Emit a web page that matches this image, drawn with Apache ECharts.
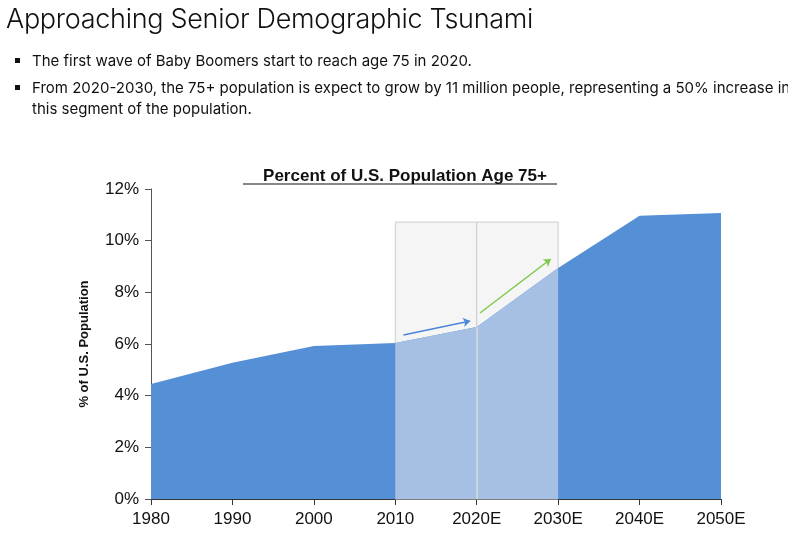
<!DOCTYPE html><html><head><meta charset="utf-8"><script src="https://cdn.jsdelivr.net/npm/echarts@6/dist/echarts.min.js"></script>
<style>body{margin:0;background:#fff;font-family:Inter,"Noto Sans",sans-serif}
#h{position:absolute;left:6px;top:2px;font-size:27px;font-weight:300;letter-spacing:-0.3px;color:#111}
ul{position:absolute;left:14px;top:50px;margin:0;padding:0 0 0 18px;font-size:15px;line-height:21px;color:#111;list-style:square;width:770px}
li{margin-bottom:6px}
#c{position:absolute;left:0;top:0;width:788px;height:540px}</style></head><body>
<div id="c"></div>
<div id="h">Approaching Senior Demographic Tsunami</div>
<ul><li>The first wave of Baby Boomers start to reach age 75 in 2020.</li>
<li>From 2020-2030, the 75+ population is expect to grow by 11 million people, representing a 50% increase in this segment of the population.</li></ul>
<script>
const years=[1980,1990,2000,2010,2020,2030,2040,2050];
const tickLabels=['1980','1990','2000','2010','2020E','2030E','2040E','2050E'];
const pct=[4.45,5.27,5.92,6.04,6.66,8.94,10.96,11.07];
const highlightYears=[2010,2020,2030];
const boxTop=10.72;
const blueArrow=[[2011,6.35],[2019.2,6.89]];
const greenArrow=[[2020.4,7.2],[2029.1,9.29]];
const c=echarts.init(document.getElementById('c'));
const light=years.map((y,i)=>highlightYears.includes(y)?[y,pct[i]]:null).filter(Boolean);
c.setOption({animation:false,
grid:{left:151,right:67,top:189,bottom:41},
xAxis:{type:'value',min:1980,max:2050,interval:10,splitLine:{show:false},
 axisLine:{lineStyle:{color:'#333'}},axisTick:{show:true,length:6,lineStyle:{color:'#333'}},
 axisLabel:{color:'#111',fontSize:17,margin:12,formatter:v=>tickLabels[years.indexOf(v)]||''}},
yAxis:{type:'value',min:0,max:12,interval:2,splitLine:{show:false},
 name:'% of U.S. Population',nameLocation:'middle',nameGap:60,nameTextStyle:{fontWeight:'bold',fontSize:13,color:'#111'},
 axisLine:{show:true,lineStyle:{color:'#555'}},axisTick:{show:true,length:6,lineStyle:{color:'#555'}},
 axisLabel:{color:'#111',fontSize:17,margin:12,formatter:'{value}%'}},
title:{text:'Percent of U.S. Population Age 75+',left:400-0,top:163,textAlign:'center',textStyle:{fontSize:17,fontWeight:'bold',color:'#111'}},
series:[
 {type:'line',z:1,data:[],markArea:{silent:true,itemStyle:{color:'#f5f5f5',borderColor:'#ccc',borderWidth:1},
  data:[[{coord:[2010,boxTop]},{coord:[2020,0]}],[{coord:[2020,boxTop]},{coord:[2030,0]}]]}},
 {type:'line',z:2,data:years.map((y,i)=>[y,pct[i]]),symbol:'none',lineStyle:{width:0},areaStyle:{color:'#558fd5',opacity:1}},
 {type:'line',z:3,data:light,symbol:'none',lineStyle:{width:0},areaStyle:{color:'#a6c0e4',opacity:1},
  markLine:{silent:true,symbol:['none','none'],label:{show:false},lineStyle:{color:'#ddd',type:'solid',width:1.5},data:[[{coord:[2020,0]},{coord:[2020,pct[4]]}]]}},
 {type:'line',z:4,data:[],markLine:{silent:true,symbol:['none','arrow'],symbolSize:7,label:{show:false},
  data:[[{coord:blueArrow[0],lineStyle:{color:'#4a86d8',width:1.5,type:'solid'}},{coord:blueArrow[1]}],
        [{coord:greenArrow[0],lineStyle:{color:'#7cc94a',width:1.5,type:'solid'}},{coord:greenArrow[1]}]]}}
],
graphic:[
 {type:'text',left:400,top:230,style:{text:'Last\nDecade',font:'bold 13px Inter,sans-serif',lineHeight:17,fill:'#111'}},
 {type:'text',left:485,top:230,style:{text:'This\nDecade',font:'bold 13px Inter,sans-serif',lineHeight:17,fill:'#111'}},
 {type:'line',shape:{x1:400,y1:262,x2:452,y2:262},style:{stroke:'#111',lineWidth:1}},
 {type:'line',shape:{x1:485,y1:262,x2:537,y2:262},style:{stroke:'#111',lineWidth:1}},
 {type:'line',shape:{x1:243,y1:184,x2:557,y2:184},style:{stroke:'#111',lineWidth:1.2}}
]});
</script></body></html>
